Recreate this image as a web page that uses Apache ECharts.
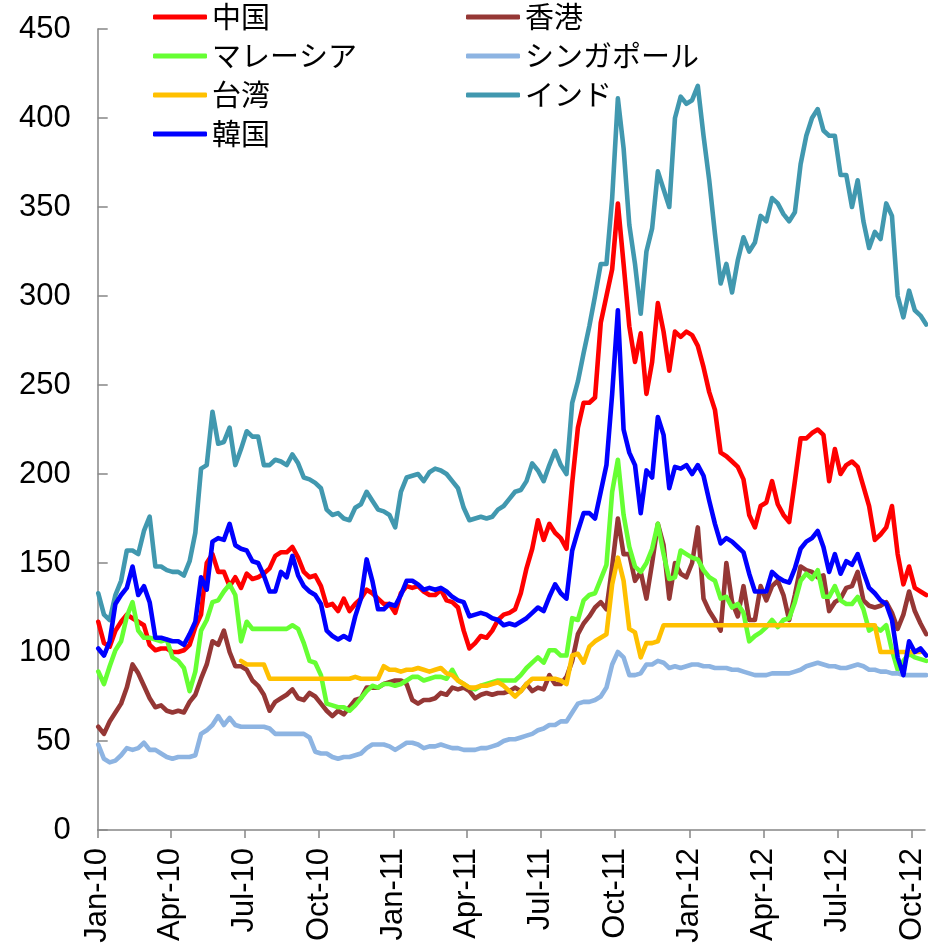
<!DOCTYPE html>
<html><head><meta charset="utf-8">
<script src="https://cdn.jsdelivr.net/npm/echarts@6/dist/echarts.min.js"></script>
<style>html,body{margin:0;padding:0;background:#fff}#chart{width:941px;height:951px}</style>
</head><body><div id="chart"></div>
<script>
// ---- data (readings taken about every 7 days from 2010-01-01) ----
const seriesNames = ['中国', '香港', 'マレーシア', 'シンガポール', '台湾', 'インド', '韓国'];
const seriesColors = ['#FF0000', '#953735', '#66FF33', '#8DB4E2', '#FFC000', '#4198AF', '#0000FF'];
const tickLabels = ['Jan-10','Apr-10','Jul-10','Oct-10','Jan-11','Apr-11','Jul-11','Oct-11','Jan-12','Apr-12','Jul-12','Oct-12'];
const tickDates = ['2010-01-01','2010-04-01','2010-07-01','2010-10-01','2011-01-01','2011-04-01','2011-07-01','2011-10-01','2012-01-01','2012-04-01','2012-07-01','2012-10-01'];
const firstDate = '2010-01-01';
const lastAxisDate = '2012-10-17';
const readingStepDays = 7.04;
const readingOffsetDays = 0.7;

const china = [117,105,103,112,117,121,119,117,115,104,101,102,102,100,100,101,104,114,121,150,
155,145,145,137,142,136,144,141,142,144,147,154,156,156,159,153,145,142,143,137,
126,127,123,130,123,127,130,135,133,130,127,127,122,133,137,136,137,134,132,132,
135,129,128,125,112,102,105,109,108,112,118,121,122,124,133,147,158,174,163,172,
167,164,158,195,226,240,240,243,285,300,315,352,318,283,263,279,245,263,296,280,
258,280,277,280,278,272,260,246,236,212,210,207,204,197,177,170,182,184,196,183,
177,173,196,220,220,223,225,222,196,214,200,205,207,204,193,182,163,166,170,182,
155,138,148,136,134,132];
const hongkong = [58,54,61,66,71,80,93,88,81,74,69,70,67,66,67,66,72,76,85,93,
106,104,112,100,92,92,90,84,81,76,67,72,74,76,79,74,73,77,75,71,
67,64,67,65,69,73,74,80,80,80,82,83,84,84,82,73,71,73,73,74,
77,76,80,79,80,78,74,76,77,76,77,77,78,80,78,82,78,80,79,87,
82,82,86,95,110,116,120,125,128,124,148,175,155,155,140,145,130,150,172,160,
130,150,144,142,150,170,130,123,118,112,150,128,120,137,118,118,137,129,137,140,
132,118,132,148,146,145,142,143,123,128,130,136,137,145,129,126,125,126,128,122,
113,121,134,123,116,110];
const malaysia = [89,82,92,101,106,120,128,112,108,108,107,106,107,97,95,91,78,89,112,118,
128,129,134,138,132,106,117,113,113,113,113,113,113,113,115,113,105,95,94,87,
71,70,69,69,67,70,74,78,81,80,82,82,81,82,84,86,86,84,85,86,
86,85,90,84,82,80,79,81,82,83,84,84,84,84,87,91,94,97,94,101,
101,98,98,119,118,129,132,133,141,149,190,208,177,159,148,145,150,158,172,155,
141,142,157,155,153,152,146,142,140,130,131,125,127,122,106,109,111,114,118,114,
118,119,128,140,144,141,146,131,131,137,129,127,127,131,124,112,114,112,115,101,
90,95,99,97,96,95];
const singapore = [48,40,38,39,42,46,45,46,49,45,45,43,41,40,41,41,41,42,54,56,
59,64,59,63,59,58,58,58,58,58,57,54,54,54,54,54,54,52,44,43,
43,41,40,41,41,42,43,46,48,48,48,47,45,47,49,49,48,46,47,47,
48,47,46,46,45,45,45,46,46,47,48,50,51,51,52,53,54,56,57,59,
59,61,61,66,71,72,72,73,75,80,93,100,97,87,87,88,93,93,95,94,
91,92,91,92,93,93,92,92,91,91,91,90,90,89,88,87,87,87,88,88,
88,88,89,90,92,93,94,93,92,92,91,91,92,93,92,90,90,89,89,88,
88,87,87,87,87,87];
const taiwan = [null,null,null,null,null,null,null,null,null,null,null,null,null,null,null,null,null,null,null,null,
null,null,null,null,null,95,93,93,93,93,85,85,85,85,85,85,85,85,85,85,
85,85,85,85,85,86,85,85,85,85,92,90,90,89,90,90,91,90,89,90,
91,88,87,84,82,80,80,81,81,82,83,81,78,75,78,82,85,85,85,85,
85,84,82,98,99,94,103,106,108,110,138,153,140,113,111,97,105,105,106,115,
115,115,115,115,115,115,115,115,115,115,115,115,115,115,115,115,115,115,115,115,
115,115,115,115,115,115,115,115,115,115,115,115,115,115,115,115,115,100,100,100,
100,100,100,100,100,null];
const india = [133,121,118,132,140,157,157,155,168,176,148,148,146,145,145,143,151,167,203,205,
235,217,218,226,205,214,224,221,221,205,205,208,207,205,211,206,198,197,195,192,
180,177,178,175,174,181,183,190,185,180,179,177,170,190,198,199,200,196,201,203,
202,200,196,192,181,174,175,176,175,176,180,182,186,190,191,196,206,202,196,205,
213,205,200,240,252,268,283,300,318,318,355,411,383,340,318,290,325,338,370,360,
350,400,412,408,410,418,390,365,335,307,318,302,320,333,325,330,345,342,355,352,
346,342,347,374,390,400,405,393,390,390,368,368,350,365,342,327,336,332,352,345,
300,288,303,292,289,284];
const korea = [102,98,106,127,132,136,148,132,137,128,108,108,107,106,106,104,110,117,142,135,
162,164,163,172,160,158,157,151,150,143,134,134,145,142,154,143,137,134,132,127,
112,109,107,109,107,120,130,152,140,124,124,127,126,132,140,140,138,135,136,135,
136,134,131,129,128,120,121,122,121,119,118,115,116,115,117,119,122,125,123,131,
138,133,130,157,168,178,178,175,190,205,245,292,225,212,205,178,202,198,232,222,
192,204,203,205,200,205,199,185,172,161,164,162,159,156,144,134,134,134,145,142,
140,139,147,158,162,164,168,159,145,155,144,151,149,155,145,136,133,129,127,118,
97,87,106,100,102,98];
const seriesValues = [china, hongkong, malaysia, singapore, taiwan, india, korea];

// ---- helpers ----
const DAY = 86400000;
const dayOf = s => (Date.parse(s + 'T00:00:00Z') - Date.parse(firstDate + 'T00:00:00Z')) / DAY;
const tickDays = tickDates.map(dayOf);
const readingDays = china.map((_, i) => readingOffsetDays + i * readingStepDays);

const font = "'Liberation Sans', Arial, 'Noto Sans CJK JP', sans-serif";
const chart = echarts.init(document.getElementById('chart'), null, {renderer: 'canvas'});

const series = seriesNames.map((name, k) => ({
  name,
  type: 'line',
  data: readingDays.map((d, i) => [d, seriesValues[k][i]]),
  showSymbol: false,
  symbol: 'none',
  connectNulls: false,
  clip: false,
  color: seriesColors[k],
  lineStyle: {width: 4.6, color: seriesColors[k], cap: 'round', join: 'round'},
  animation: false,
  z: 2 + k
}));

const legendCommon = {
  orient: 'vertical',
  top: 2,
  padding: 0,
  itemWidth: 54,
  itemHeight: 5,
  itemGap: 9,
  icon: 'roundRect',
  textStyle: {fontSize: 29, color: '#000', fontFamily: "'Noto Sans CJK JP', sans-serif", lineHeight: 30},
  selectedMode: false
};

chart.setOption({
  backgroundColor: '#fff',
  animation: false,
  grid: {left: 97.7, right: 16, top: 29, bottom: 121, containLabel: false},
  legend: [
    Object.assign({}, legendCommon, {left: 153, data: ['中国', 'マレーシア', '台湾', '韓国']}),
    Object.assign({}, legendCommon, {left: 466, data: ['香港', 'シンガポール', 'インド']})
  ],
  xAxis: {
    type: 'value',
    min: 0,
    max: dayOf(lastAxisDate),
    splitLine: {show: false},
    axisLine: {show: true, lineStyle: {color: '#868686', width: 1.5}},
    axisTick: {show: true, customValues: tickDays, length: 8, lineStyle: {color: '#868686', width: 1.5}},
    axisLabel: {
      customValues: tickDays,
      rotate: 90,
      margin: 18,
      fontSize: 31,
      color: '#000',
      fontFamily: font,
      formatter: v => {
        const idx = tickDays.findIndex(t => Math.abs(t - v) < 0.5);
        return idx >= 0 ? tickLabels[idx] : '';
      }
    }
  },
  yAxis: {
    type: 'value',
    min: 0,
    max: 450,
    interval: 50,
    splitLine: {show: false},
    axisLine: {show: true, lineStyle: {color: '#868686', width: 1.5}},
    axisTick: {show: true, inside: true, length: 10, lineStyle: {color: '#868686', width: 1.5}},
    axisLabel: {margin: 27, fontSize: 31, color: '#000', fontFamily: font}
  },
  series
});
</script></body></html>
